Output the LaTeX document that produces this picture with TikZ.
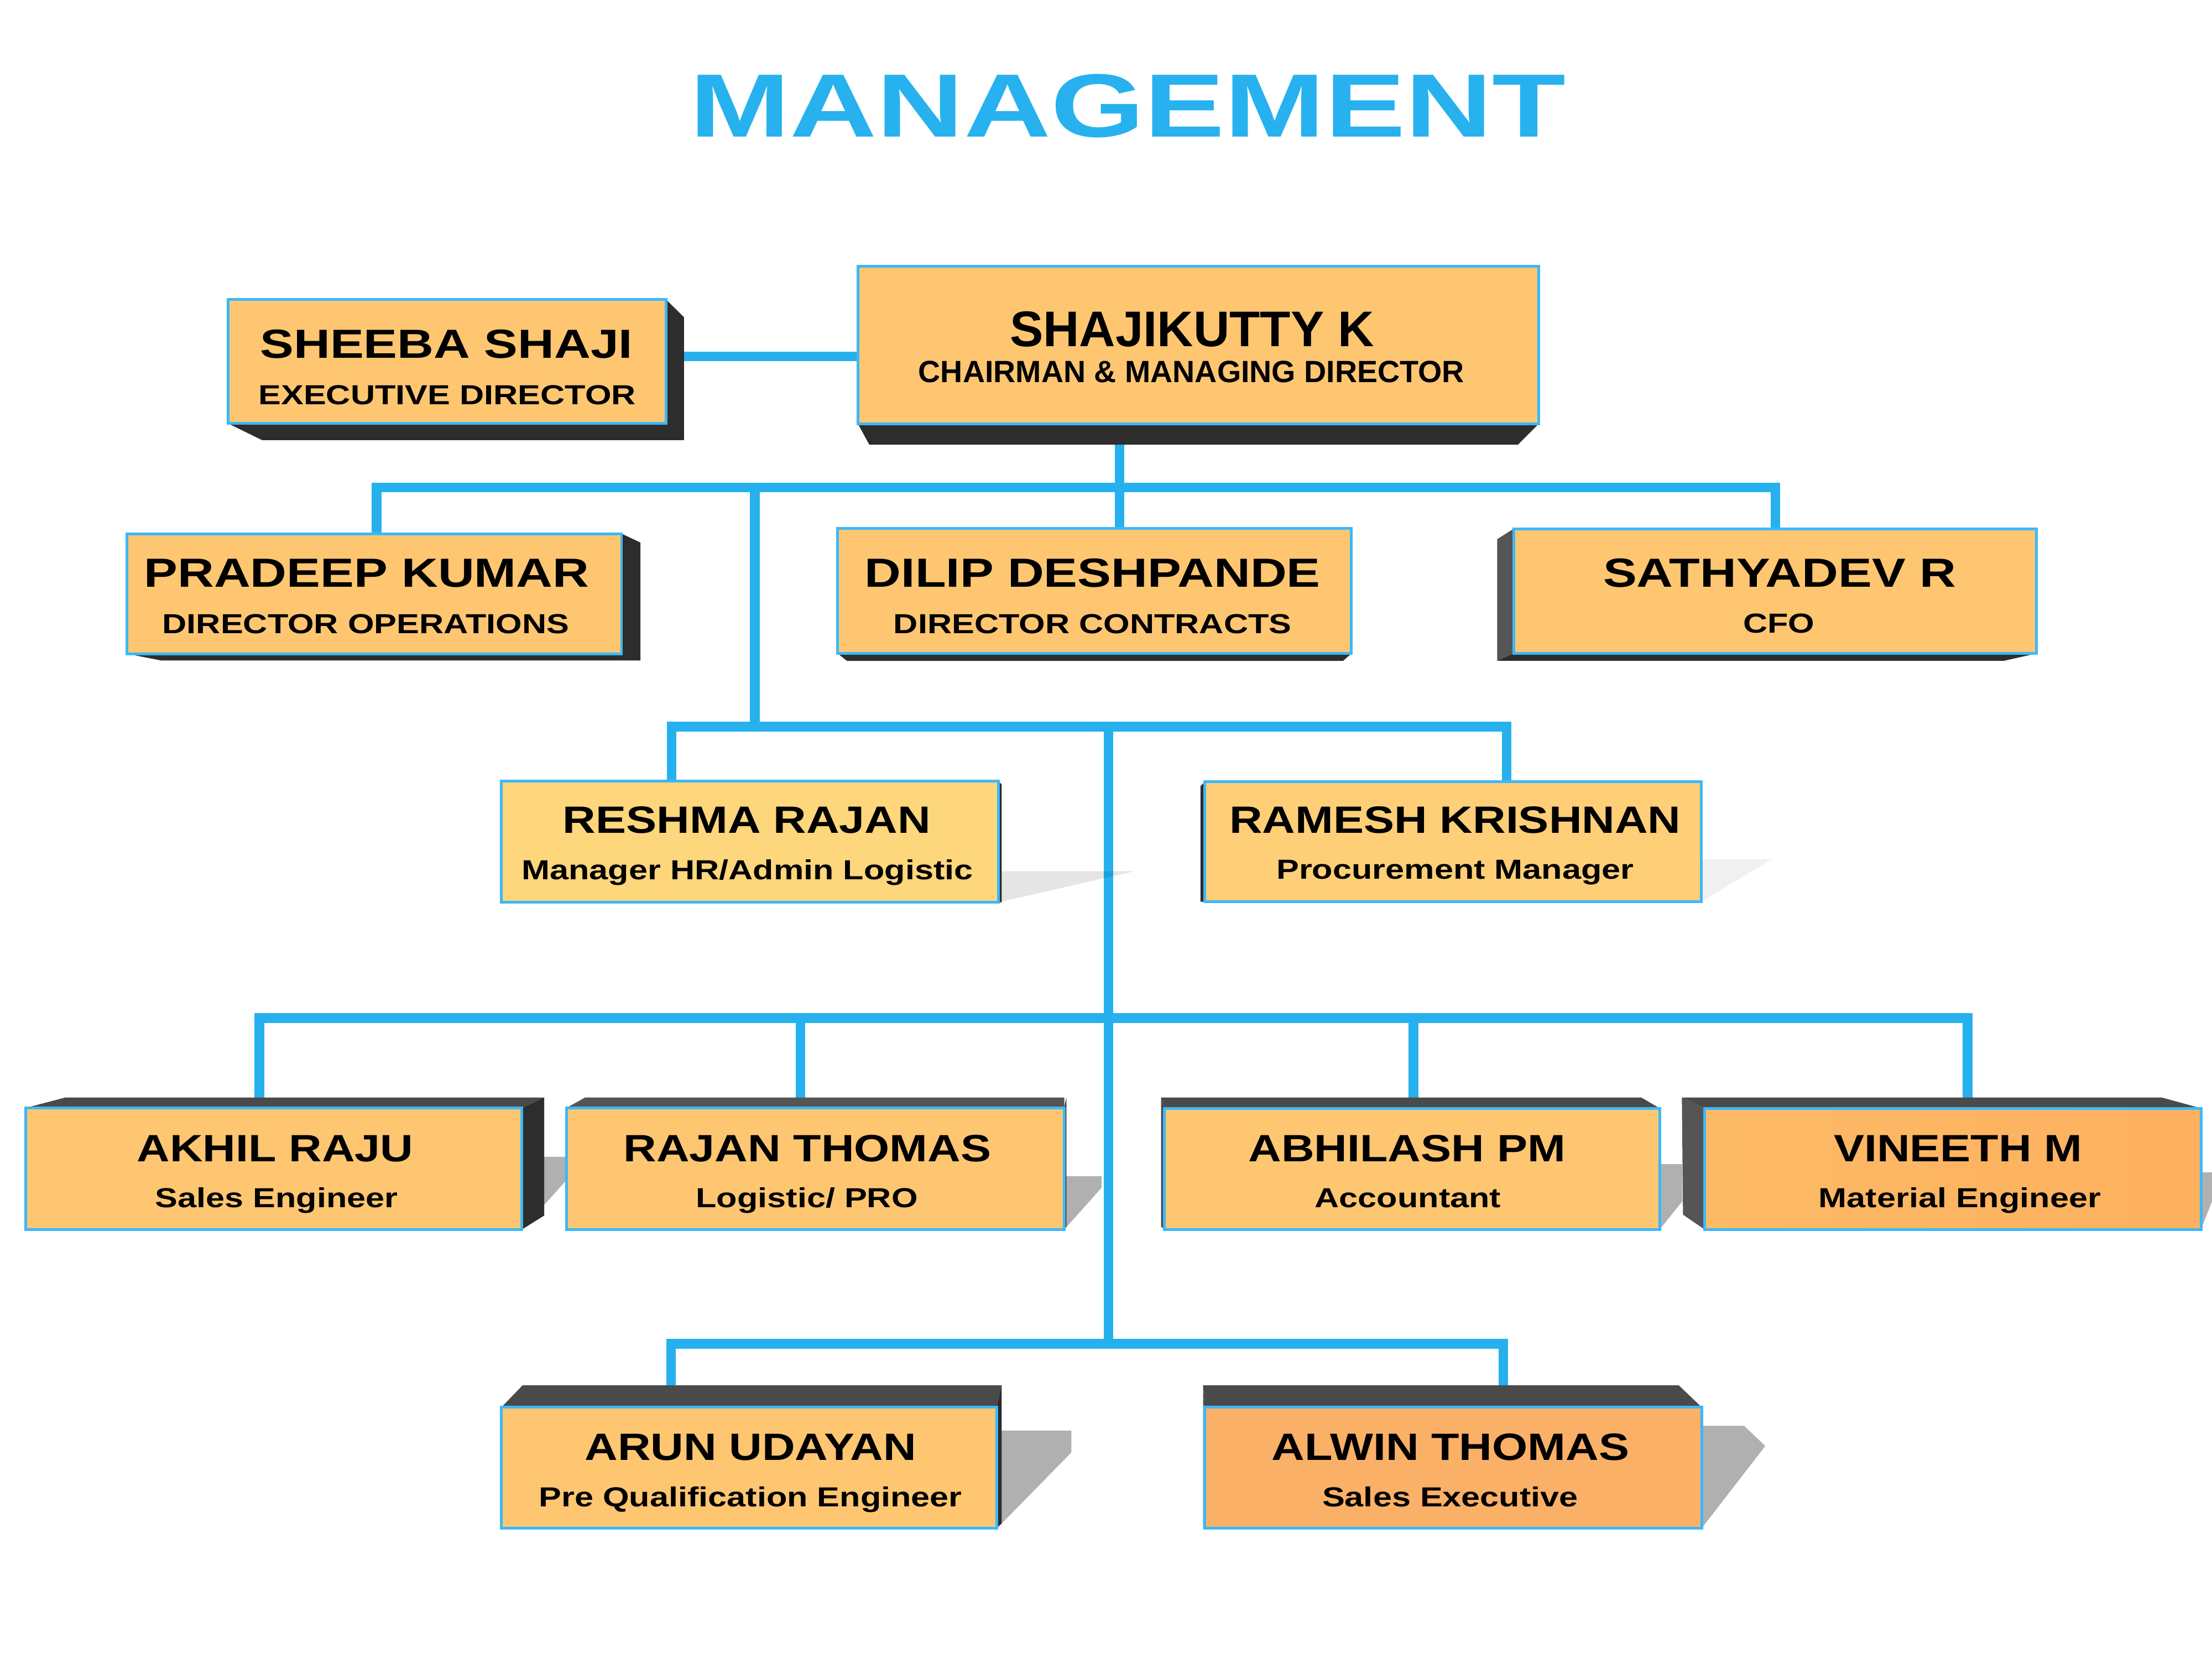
\documentclass[tikz,border=0pt]{standalone}
\usepackage{fontspec}
\setmainfont{Liberation Sans}
\newfontfamily\widesans{Liberation Sans}[FakeStretch=1.2]
\newfontfamily\widersans{Liberation Sans}[FakeStretch=1.24]
\newfontfamily\rolesans{Liberation Sans}[FakeStretch=1.23]
\newfontfamily\titlesans{Liberation Sans}[FakeStretch=1.34]
\usetikzlibrary{calc,backgrounds}

\definecolor{linkblue}{HTML}{26B1EE}
\definecolor{edgeblue}{HTML}{3BB8FA}
\definecolor{titleblue}{HTML}{27B1EE}
\definecolor{boxfill}{HTML}{FEC671}
\definecolor{hrfill}{HTML}{FED67B}
\definecolor{procfill}{HTML}{FECF77}
\definecolor{matleft}{HTML}{FDBA66}
\definecolor{matright}{HTML}{FDB05E}
\definecolor{alwinfill}{HTML}{FAB067}
\definecolor{face1}{HTML}{2D2D2D}
\definecolor{face2}{HTML}{4A4A4A}
\definecolor{face3}{HTML}{555555}
\definecolor{shadowgrey}{HTML}{B0B0B0}

\newcommand{\dpx}{0.02cm}

\tikzset{
    every node/.style={inner sep=0pt,outer sep=0pt},
    person/.style={draw=edgeblue,line width=1.1pt,fill=boxfill},
    boxsize/.style 2 args={minimum width=#1*\dpx,minimum height=#2*\dpx},
    titletext/.style={anchor=base,text=titleblue,font=\titlesans\bfseries\fontsize{36.25}{40}\selectfont},
    chairname/.style={anchor=base,font=\bfseries\fontsize{20.2}{22}\selectfont},
    chairrole/.style={anchor=base,font=\bfseries\fontsize{12.4}{14}\selectfont},
    topname/.style={anchor=base,font=\widersans\bfseries\fontsize{16.4}{18}\selectfont},
    subname/.style={anchor=base,font=\widesans\bfseries\fontsize{15.35}{17}\selectfont},
    role/.style={anchor=base,font=\rolesans\bfseries\fontsize{11.1}{13}\selectfont},
    link/.style={draw=linkblue,line width=3.9pt},
    shadow/.style={fill=shadowgrey}
}

\begin{document}
\begin{tikzpicture}[x=0.02cm,y=-0.02cm]
    \useasboundingbox (0,0) rectangle (1568,1176);

    \node[titletext] (title) at (799.5,97.2) {MANAGEMENT};

    \node[person,boxsize={310.4}{87.8}] (sheeba) at (317,256.3) {};
    \node[person,boxsize={482.4}{111.7}] (chair) at (849.4,244.65) {};
    \node[person,boxsize={350.8}{85.1}] (ops) at (265.2,420.85) {};
    \node[person,boxsize={364.2}{88.6}] (contracts) at (775.9,418.9) {};
    \node[person,boxsize={370.7}{88.4}] (cfo) at (1258.35,419) {};
    \node[person,fill=hrfill,boxsize={352.3}{86}] (hr) at (531.45,596.6) {};
    \node[person,fill=procfill,boxsize={352}{85}] (proc) at (1030,596.7) {};
    \node[person,boxsize={351.6}{86.2}] (sales) at (194.2,828.4) {};
    \node[person,boxsize={352.8}{86.2}] (pro) at (578,828.4) {};
    \node[person,boxsize={351}{85.9}] (acct) at (1001,828.55) {};
    \node[person,left color=matleft,right color=matright,boxsize={351.9}{85.9}] (mat) at (1384.25,828.55) {};
    \node[person,boxsize={351}{85.6}] (preq) at (530.9,1040.4) {};
    \node[person,fill=alwinfill,boxsize={352.3}{85.6}] (salesx) at (1030.15,1040.4) {};

    \node[topname] (sheeba-n) at (316.5,254) {SHEEBA SHAJI};
    \node[role] (sheeba-r) at (317,286.7) {EXECUTIVE DIRECTOR};
    \node[chairname] (chair-n) at (845,245.4) {SHAJIKUTTY K};
    \node[chairrole] (chair-r) at (844.5,271.1) {CHAIRMAN \& MANAGING DIRECTOR};
    \node[topname] (ops-n) at (259.9,416.1) {PRADEEP KUMAR};
    \node[role] (ops-r) at (259.3,449) {DIRECTOR OPERATIONS};
    \node[topname] (contracts-n) at (774.5,416) {DILIP DESHPANDE};
    \node[role] (contracts-r) at (774.5,449.2) {DIRECTOR CONTRACTS};
    \node[topname] (cfo-n) at (1261.5,416.2) {SATHYADEV R};
    \node[role] (cfo-r) at (1261,448.8) {CFO};
    \node[subname] (hr-n) at (529.4,590.7) {RESHMA RAJAN};
    \node[role] (hr-r) at (529.8,623.3) {Manager HR/Admin Logistic};
    \node[subname] (proc-n) at (1031.5,590.7) {RAMESH KRISHNAN};
    \node[role] (proc-r) at (1031.5,623) {Procurement Manager};
    \node[subname] (sales-n) at (195,823.5) {AKHIL RAJU};
    \node[role] (sales-r) at (196,855.8) {Sales Engineer};
    \node[subname] (pro-n) at (572.3,823.5) {RAJAN THOMAS};
    \node[role] (pro-r) at (572,855.8) {Logistic/ PRO};
    \node[subname] (acct-n) at (997.4,823.5) {ABHILASH PM};
    \node[role] (acct-r) at (998,855.8) {Accountant};
    \node[subname] (mat-n) at (1388,823.5) {VINEETH M};
    \node[role] (mat-r) at (1389.2,855.8) {Material Engineer};
    \node[subname] (preq-n) at (532,1035) {ARUN UDAYAN};
    \node[role] (preq-r) at (532,1067.8) {Pre Qualification Engineer};
    \node[subname] (salesx-n) at (1028.2,1035) {ALWIN THOMAS};
    \node[role] (salesx-r) at (1028,1067.8) {Sales Executive};

    \coordinate (sl) at ($(sheeba.east)+(0,-3.6)$);
    \coordinate (j0) at (793.6,345.5);
    \coordinate (j1) at (535,345.5);
    \coordinate (j2) at (535,515);
    \coordinate (j3) at (785.7,515);
    \coordinate (j5) at (785.7,952.5);
    \coordinate (b1w) at (267,345.5);
    \coordinate (b1e) at (1258.4,345.5);
    \coordinate (b2w) at (476,515);
    \coordinate (b2e) at (1068,515);
    \coordinate (b3w) at (183.8,721.7);
    \coordinate (b3b) at (567.5,721.7);
    \coordinate (b3c) at (1002,721.7);
    \coordinate (b3e) at (1394.8,721.7);
    \coordinate (b4w) at (475.7,952.5);
    \coordinate (b4e) at (1065.6,952.5);

    \begin{pgfonlayer}{background}
    % connectors
    \draw[link] (sl) -- (sl -| chair.west);
    \draw[link] (j0 |- chair.south) -- (j0 |- contracts.north);
    \draw[link] (b1w |- ops.north) -- (b1w) -- (b1e) -- (b1e |- cfo.north);
    \draw[link] (j1) -- (j2);
    \draw[link] (b2w |- hr.north) -- (b2w) -- (b2e) -- (b2e |- proc.north);
    \draw[link] (j3) -- (j5);
    \draw[link] (b3w |- sales.north) -- (b3w) -- (b3e) -- (b3e |- mat.north);
    \draw[link] (b3b) -- (b3b |- pro.north);
    \draw[link] (b3c) -- (b3c |- acct.north);
    \draw[link] (b4w |- preq.north) -- (b4w) -- (b4e) -- (b4e |- salesx.north);

    % shadows
    \fill[black,fill opacity=0.1] ($(hr.south east)+(2.4,-22.1)$) -- ++(94.5,0) -- (hr.south east) -- cycle;
    \fill[black,fill opacity=0.06] ($(proc.south east)+(0,-30)$) -- ++(49.5,0) -- (proc.south east) -- cycle;
    \fill[shadow] ($(sales.south east)+(15.8,-51.5)$) -- ++(15.8,0) -- ($(sales.south east)+(31.6,-35)$) -- (sales.south east) -- cycle;
    \fill[shadow] ($(pro.south east)+(0,-37.8)$) -- ++(26.4,0) -- ($(pro.south east)+(26.4,-29.5)$) -- (pro.south east) -- cycle;
    \fill[shadow] ($(acct.south east)+(0,-46.3)$) -- ++(16,0) -- ($(acct.south east)+(16,-20)$) -- (acct.south east) -- cycle;
    \fill[shadow] ($(mat.south east)+(0,-40.5)$) -- ++(7.8,0) -- ($(mat.south east)+(7.8,-20)$) -- (mat.south east) -- cycle;
    \fill[shadow] ($(preq.south east)+(3.6,-69.2)$) -- ++(49.4,0) -- ($(preq.south east)+(53,-53.6)$) -- ($(preq.south east)+(3.6,-3.2)$) -- (preq.south east) -- cycle;
    \fill[shadow] ($(salesx.south east)+(0,-72.5)$) -- ++(30,0) -- ($(salesx.south east)+(45,-58.2)$) -- (salesx.south east) -- cycle;

    % 3d faces
    \fill[face1] (sheeba.north east) -- ++(12.6,12.4) -- ($(sheeba.south east)+(12.6,11.8)$) -- ($(sheeba.south west)+(24,11.8)$) -- (sheeba.south west) -- cycle;
    \fill[face1] (chair.south west) -- ++(8,14.7) -- ($(chair.south east)+(-14.6,14.7)$) -- (chair.south east) -- cycle;
    \fill[face1] (ops.north east) -- ++(13.4,6.3) -- ($(ops.south east)+(13.4,4.8)$) -- ($(ops.south west)+(24.6,4.8)$) -- (ops.south west) -- cycle;
    \fill[face1] (contracts.south west) -- ++(6.6,5.3) -- ($(contracts.south east)+(-6,5.3)$) -- (contracts.south east) -- cycle;
    \fill[face3] (cfo.north west) -- ++(-11.7,7.4) -- ($(cfo.south west)+(-11.7,5.2)$) -- (cfo.south west) -- cycle;
    \fill[face1] ($(cfo.south west)+(-11.7,5.2)$) -- ($(cfo.south east)+(-23.2,5.2)$) -- (cfo.south east) -- (cfo.south west) -- cycle;
    \fill[face1] (hr.north east) -- ++(2.4,2.4) -- ($(hr.south east)+(2.4,0)$) -- (hr.south east) -- cycle;
    \fill[face1] (proc.north west) -- ++(-3,3) -- ($(proc.south west)+(-3,0)$) -- (proc.south west) -- cycle;
    \fill[face2] (sales.north west) -- ++(27.8,-7.3) -- ($(sales.north east)+(15.8,-7.3)$) -- (sales.north east) -- cycle;
    \fill[face1] (sales.north east) -- ++(15.8,-7.3) -- ($(sales.south east)+(15.8,-9.9)$) -- (sales.south east) -- cycle;
    \fill[face3] (pro.north west) -- ++(13.1,-7.3) -- ($(pro.north east)+(0,-7.3)$) -- (pro.north east) -- cycle;
    \fill[face1] (pro.north east) -- ++(1.5,-7.3) -- ($(pro.south east)+(1.5,-2)$) -- (pro.south east) -- cycle;
    \fill[face2] (acct.north west) -- ++(-2.5,-7.6) -- ($(acct.north east)+(-13,-7.6)$) -- (acct.north east) -- cycle;
    \fill[face2] (acct.north west) -- ++(-2.5,-7.6) -- ($(acct.south west)+(-2.5,-2)$) -- (acct.south west) -- cycle;
    \fill[face2] (mat.north west) -- ++(-16.1,-7.6) -- ($(mat.north east)+(-27.7,-7.6)$) -- (mat.north east) -- cycle;
    \fill[face3] (mat.north west) -- ++(-16.1,-7.6) -- ($(mat.south west)+(-15.3,-10.5)$) -- (mat.south west) -- cycle;
    \fill[face2] (preq.north west) -- ++(15,-15.6) -- ($(preq.north east)+(3.6,-15.6)$) -- (preq.north east) -- cycle;
    \fill[face1] (preq.north east) -- ++(3.6,-15.6) -- ($(preq.south east)+(3.6,-3.2)$) -- (preq.south east) -- cycle;
    \fill[face2] (salesx.north west) -- ++(-1.2,-15.6) -- ($(salesx.north east)+(-16.3,-15.6)$) -- (salesx.north east) -- cycle;
    \fill[face2] (salesx.north west) -- ++(-1.2,-15.6) -- ($(salesx.south west)+(-1.2,0)$) -- (salesx.south west) -- cycle;
    \end{pgfonlayer}
\end{tikzpicture}
\end{document}
